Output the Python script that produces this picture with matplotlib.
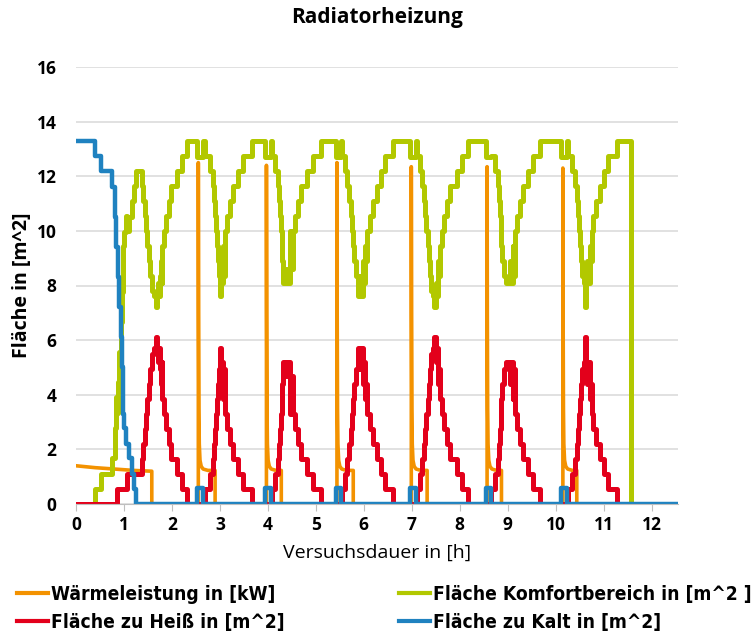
import matplotlib
matplotlib.use("Agg")
import matplotlib.pyplot as plt
from matplotlib.lines import Line2D

# Wärmeleistung [kW]: Anlaufphase, danach Heizimpulse mit Abklingen
start_t = [0.00, 0.40, 0.80, 1.20, 1.58]
start_kw = [1.40, 1.33, 1.28, 1.23, 1.20]
impuls_t = [2.55, 3.97, 5.44, 6.99, 8.57, 10.15]
impuls_kw = [12.5, 12.4, 12.5, 12.35, 12.35, 12.3]
aus_t = [2.90, 4.28, 5.78, 7.32, 8.87, 10.44]
abkling_dt = [0.005, 0.012, 0.02, 0.035, 0.06, 0.10, 0.20]
abkling_kw = [7.0, 3.5, 2.2, 1.6, 1.38, 1.28, 1.23]

# Fläche zu Kalt [m^2]
kalt_t = [0.00, 0.40, 0.53, 0.76, 0.81, 0.84, 0.87, 0.90, 0.93, 0.95, 0.97,
          0.99, 1.01, 1.04, 1.10, 1.16, 1.21, 1.25,
          2.52, 2.64, 3.94, 4.06, 5.41, 5.53, 6.96, 7.08, 8.54, 8.66,
          10.12, 10.24, 12.55]
kalt_m2 = [13.3, 12.75, 12.2, 11.6, 10.5, 9.4, 8.3, 7.2, 6.1, 5.0, 3.9,
           3.3, 2.8, 2.2, 1.7, 1.1, 0.55, 0,
           0.6, 0, 0.6, 0, 0.6, 0, 0.6, 0, 0.6, 0,
           0.6, 0, 0]

# Fläche zu Heiß [m^2]
heiss_t = [0.00, 0.85, 1.06, 1.37, 1.40, 1.43, 1.46, 1.49, 1.52, 1.55, 1.58,
           1.62, 1.66, 1.68, 1.71, 1.73, 1.75, 1.77, 1.79, 1.80, 1.84, 1.88,
           1.93, 1.99, 2.10, 2.20, 2.31,
           2.69, 2.79, 2.85, 2.88, 2.90, 2.92, 2.94, 2.96, 2.98, 3.00, 3.03,
           3.04, 3.06, 3.08, 3.10, 3.15, 3.21, 3.28, 3.38, 3.48, 3.66,
           4.08, 4.15, 4.21, 4.24, 4.26, 4.28, 4.29, 4.30, 4.31, 4.32, 4.38,
           4.40, 4.46, 4.49, 4.53, 4.57, 4.63, 4.70, 4.81, 4.94, 5.10,
           5.55, 5.60, 5.66, 5.70, 5.73, 5.76, 5.78, 5.80, 5.83, 5.87, 5.93,
           5.94, 5.98, 6.00, 6.02, 6.05, 6.07, 6.13, 6.20, 6.27, 6.35, 6.45, 6.61,
           7.10, 7.17, 7.22, 7.25, 7.28, 7.30, 7.33, 7.35, 7.38, 7.41, 7.45,
           7.47, 7.50, 7.52, 7.54, 7.57, 7.58, 7.63, 7.68, 7.74, 7.80, 7.95,
           8.05, 8.17,
           8.66, 8.73, 8.79, 8.82, 8.84, 8.85, 8.86, 8.88, 8.92, 8.96, 9.05,
           9.07, 9.10, 9.12, 9.15, 9.20, 9.25, 9.32, 9.42, 9.53, 9.67,
           10.26, 10.33, 10.40, 10.44, 10.46, 10.48, 10.50, 10.52, 10.54, 10.58,
           10.62, 10.64, 10.66, 10.68, 10.71, 10.73, 10.75, 10.78, 10.84, 10.93,
           11.01, 11.10, 11.28,
           12.55]
heiss_m2 = [0, 0.55, 1.1, 1.65, 2.2, 2.75, 3.3, 3.85, 4.4, 4.95, 5.5,
            5.7, 6.1, 5.7, 5.2, 5.7, 4.95, 4.4, 5.2, 3.85, 3.3, 2.75,
            2.2, 1.65, 1.1, 0.55, 0,
            0.55, 1.1, 1.65, 2.2, 2.75, 3.3, 3.85, 4.4, 4.95, 5.7, 4.4,
            5.2, 3.85, 4.95, 3.3, 2.75, 2.2, 1.65, 1.1, 0.55, 0,
            0.55, 1.1, 1.65, 2.2, 2.75, 3.3, 3.85, 4.4, 4.95, 5.2, 4.7,
            5.2, 3.3, 4.7, 3.3, 2.75, 2.2, 1.65, 1.1, 0.55, 0,
            0.55, 1.1, 1.65, 2.2, 2.75, 3.3, 3.85, 4.4, 4.95, 5.7, 4.95,
            5.7, 4.4, 5.2, 3.85, 4.4, 3.3, 2.75, 2.2, 1.65, 1.1, 0.55, 0,
            0.55, 1.1, 1.65, 2.2, 2.75, 3.3, 3.85, 4.4, 4.95, 5.5, 5.7,
            6.1, 5.2, 5.7, 4.4, 4.95, 3.85, 3.3, 2.75, 2.2, 1.65, 1.1,
            0.55, 0,
            0.55, 1.1, 1.65, 2.2, 2.75, 3.3, 3.85, 4.4, 4.95, 5.2, 4.4,
            5.2, 3.85, 4.95, 3.3, 2.75, 2.2, 1.65, 1.1, 0.55, 0,
            0.55, 1.1, 1.65, 2.2, 2.75, 3.3, 3.85, 4.4, 4.95, 5.2,
            6.1, 5.2, 4.4, 5.2, 3.85, 4.4, 3.3, 2.75, 2.2, 1.65,
            1.1, 0.55, 0,
            0]

# Fläche Komfortbereich [m^2]
komfort_t = [0.00, 0.40, 0.53, 0.76, 0.81, 0.84, 0.85, 0.87, 0.90, 0.93,
             0.95, 0.97, 0.99, 1.01, 1.04, 1.06, 1.10, 1.16, 1.21, 1.25,
             1.37, 1.40, 1.43, 1.46, 1.49, 1.52, 1.55, 1.58, 1.62, 1.66,
             1.68, 1.71, 1.73, 1.75, 1.77, 1.79, 1.80, 1.84, 1.88, 1.93,
             1.99, 2.10, 2.20, 2.31,
             2.52, 2.64,
             2.69, 2.79, 2.85, 2.88, 2.90, 2.92, 2.94, 2.96, 2.98, 3.00, 3.03,
             3.04, 3.06, 3.08, 3.10, 3.15, 3.21, 3.28, 3.38, 3.48, 3.66,
             3.94, 4.06,
             4.08, 4.15, 4.21, 4.24, 4.26, 4.28, 4.29, 4.30, 4.31, 4.32, 4.38,
             4.40, 4.46, 4.49, 4.53, 4.57, 4.63, 4.70, 4.81, 4.94, 5.10,
             5.41, 5.53,
             5.55, 5.60, 5.66, 5.70, 5.73, 5.76, 5.78, 5.80, 5.83, 5.87, 5.93,
             5.94, 5.98, 6.00, 6.02, 6.05, 6.07, 6.13, 6.20, 6.27, 6.35, 6.45, 6.61,
             6.96, 7.08,
             7.10, 7.17, 7.22, 7.25, 7.28, 7.30, 7.33, 7.35, 7.38, 7.41, 7.45,
             7.47, 7.50, 7.52, 7.54, 7.57, 7.58, 7.63, 7.68, 7.74, 7.80, 7.95,
             8.05, 8.17,
             8.54,
             8.66, 8.73, 8.79, 8.82, 8.84, 8.85, 8.86, 8.88, 8.92, 8.96, 9.05,
             9.07, 9.10, 9.12, 9.15, 9.20, 9.25, 9.32, 9.42, 9.53, 9.67,
             10.12, 10.24,
             10.26, 10.33, 10.40, 10.44, 10.46, 10.48, 10.50, 10.52, 10.54, 10.58,
             10.62, 10.64, 10.66, 10.68, 10.71, 10.73, 10.75, 10.78, 10.84, 10.93,
             11.01, 11.10, 11.28,
             11.58, 12.55]
komfort_m2 = [0, 0.55, 1.1, 1.7, 2.8, 3.9, 3.35, 4.45, 5.55, 6.65,
              7.75, 8.85, 9.45, 9.95, 10.55, 10.0, 10.5, 11.1, 11.65, 12.2,
              11.65, 11.1, 10.55, 10.0, 9.45, 8.9, 8.35, 7.8, 7.6, 7.2,
              7.6, 8.1, 7.6, 8.35, 8.9, 8.1, 9.45, 10.0, 10.55, 11.1,
              11.65, 12.2, 12.75, 13.3,
              12.7, 13.3,
              12.75, 12.2, 11.65, 11.1, 10.55, 10.0, 9.45, 8.9, 8.35, 7.6, 8.9,
              8.1, 9.45, 8.35, 10.0, 10.55, 11.1, 11.65, 12.2, 12.75, 13.3,
              12.7, 13.3,
              12.75, 12.2, 11.65, 11.1, 10.55, 10.0, 9.45, 8.9, 8.35, 8.1, 8.6,
              8.1, 10.0, 8.6, 10.0, 10.55, 11.1, 11.65, 12.2, 12.75, 13.3,
              12.7, 13.3,
              12.75, 12.2, 11.65, 11.1, 10.55, 10.0, 9.45, 8.9, 8.35, 7.6, 8.35,
              7.6, 8.9, 8.1, 9.45, 8.9, 10.0, 10.55, 11.1, 11.65, 12.2, 12.75, 13.3,
              12.7, 13.3,
              12.75, 12.2, 11.65, 11.1, 10.55, 10.0, 9.45, 8.9, 8.35, 7.8, 7.6,
              7.2, 8.1, 7.6, 8.9, 8.35, 9.45, 10.0, 10.55, 11.1, 11.65, 12.2,
              12.75, 13.3,
              12.7,
              12.75, 12.2, 11.65, 11.1, 10.55, 10.0, 9.45, 8.9, 8.35, 8.1, 8.9,
              8.1, 9.45, 8.35, 10.0, 10.55, 11.1, 11.65, 12.2, 12.75, 13.3,
              12.7, 13.3,
              12.75, 12.2, 11.65, 11.1, 10.55, 10.0, 9.45, 8.9, 8.35, 8.1,
              7.2, 8.1, 8.9, 8.1, 9.45, 8.9, 10.0, 10.55, 11.1, 11.65,
              12.2, 12.75, 13.3,
              0, 0]

x_ende = 12.55
labels = ["Wärmeleistung in [kW]", "Fläche Komfortbereich in [m^2 ]",
          "Fläche zu Heiß in [m^2]", "Fläche zu Kalt in [m^2]"]
farben = ["#F39200", "#B2C800", "#E3001B", "#1F82C0"]

# Leistungsverlauf zusammensetzen
w_t = list(start_t) + [start_t[-1]]
w_kw = list(start_kw) + [0]
for t0, spitze, t_aus in zip(impuls_t, impuls_kw, aus_t):
    w_t += [t0, t0] + [t0 + dt for dt in abkling_dt] + [t_aus, t_aus]
    w_kw += [0, spitze] + abkling_kw + [abkling_kw[-1], 0]
w_t.append(x_ende)
w_kw.append(0)

plt.rcParams["font.family"] = ["Open Sans", "DejaVu Sans"]

fig = plt.figure(figsize=(7.56, 6.32), dpi=100)
ax = fig.add_axes([76 / 756, 128 / 632, 602 / 756, 437 / 632])

ax.plot(w_t, w_kw, color=farben[0], lw=2.6)
ax.plot(komfort_t, komfort_m2, color=farben[1], lw=3.6, drawstyle="steps-post")
ax.plot(heiss_t, heiss_m2, color=farben[2], lw=3.6, drawstyle="steps-post")
ax.plot(kalt_t, kalt_m2, color=farben[3], lw=3.2, drawstyle="steps-post")

ax.set_xlim(0, x_ende)
ax.set_ylim(0, 16)
ax.set_xticks(range(13))
ax.set_yticks(range(0, 17, 2))
ax.grid(axis="y", color="#D9D9D9", lw=1.1)
ax.set_axisbelow(True)
for s in ["top", "right", "left"]:
    ax.spines[s].set_visible(False)
ax.spines["bottom"].set_color("#BFBFBF")
ax.tick_params(axis="y", length=0, pad=14, labelsize=12.5)
ax.tick_params(axis="x", length=5, color="#BFBFBF", pad=4, labelsize=12.5)
for lab in ax.get_xticklabels() + ax.get_yticklabels():
    lab.set_fontweight("bold")

fig.text(377 / 756, 1 - 18 / 632, "Radiatorheizung", ha="center", va="center",
         fontsize=15, fontweight="bold")
fig.text(22 / 756, 1 - 285 / 632, "Fläche in [m^2]", ha="center", va="center",
         rotation=90, fontsize=14, fontweight="bold")
fig.text(377 / 756, 1 - 553 / 632, "Versuchsdauer in [h]", ha="center",
         va="center", fontsize=14)

# Legende zeilenweise: matplotlib füllt spaltenweise
reihenfolge = [0, 2, 1, 3]
handles = [Line2D([], [], color=farben[i], lw=3) for i in reihenfolge]
fig.legend(handles, [labels[i] for i in reihenfolge], ncol=2, frameon=False,
           loc="upper left", bbox_to_anchor=(17 / 756, 1 - 585 / 632),
           borderaxespad=0, borderpad=0, handlelength=1.6, handletextpad=0.15,
           columnspacing=6.0, labelspacing=0.45,
           prop={"family": "DejaVu Sans", "stretch": "condensed",
                 "weight": "bold", "size": 13.8})

fig.savefig("out.png", dpi=100)
